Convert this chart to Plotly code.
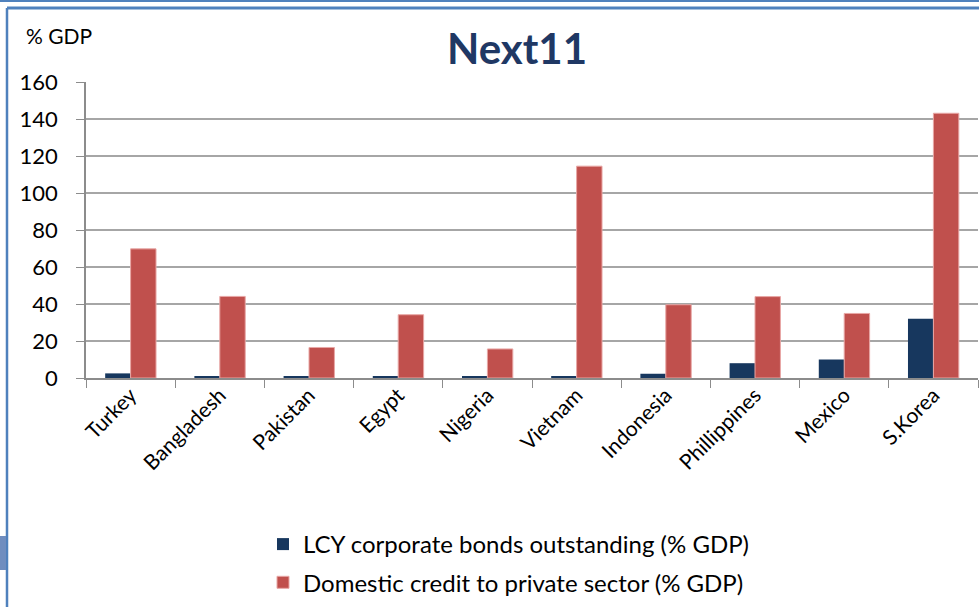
import plotly.graph_objects as go

countries = ["Turkey", "Bangladesh", "Pakistan", "Egypt", "Nigeria",
             "Vietnam", "Indonesia", "Phillippines", "Mexico", "S.Korea"]
lcy_bonds = [2.5, 1.0, 1.0, 1.0, 1.0, 1.0, 2.3, 8.0, 10.0, 32.0]
dom_credit = [69.8, 44.1, 16.5, 34.2, 15.7, 114.5, 39.6, 44.0, 34.9, 143.1]
y_ticks = [0, 20, 40, 60, 80, 100, 120, 140, 160]

FONT = "Lato"
W, H = 979, 607
L, R, T, B = 86, 1, 82, 229
PW, PH = W - L - R, H - T - B


def px(x):
    return (x - L) / PW


def py(y):
    return (H - B - y) / PH


fig = go.Figure()
fig.add_trace(go.Bar(x=countries, y=lcy_bonds, name="LCY corporate bonds outstanding (% GDP)",
                     marker=dict(color="#17375E", line=dict(width=0)), legendgroup="a"))
fig.add_trace(go.Bar(x=countries, y=dom_credit, name="Domestic credit to private sector (% GDP)",
                     marker=dict(color="#C0504D", line=dict(color="#E8A7A5", width=1)), legendgroup="b"))

fig.update_layout(
    width=W, height=H,
    margin=dict(l=L, r=R, t=T, b=B),
    paper_bgcolor="white", plot_bgcolor="white",
    barmode="group", bargap=0.43, bargroupgap=0,
    font=dict(family=FONT, color="#000000", size=19),
    showlegend=True,
    legend=dict(x=px(263), xanchor="left", y=py(522), yanchor="top",
                orientation="v", font=dict(size=24, family=FONT), tracegroupgap=4,
                bgcolor="rgba(0,0,0,0)"),
    xaxis=dict(tickson="boundaries", ticks="outside", ticklen=8, tickcolor="#8C8C8C",
               showline=True, linecolor="#8C8C8C", linewidth=1.5,
               showgrid=False, tickangle=-45, ticklabelstandoff=-5,
               tickfont=dict(size=21, family=FONT)),
    yaxis=dict(range=[0, 160], tickvals=y_ticks, ticks="outside", ticklen=8,
               tickcolor="#8C8C8C", showline=True, linecolor="#8C8C8C", linewidth=1.5,
               showgrid=True, gridcolor="#A6A6A6", gridwidth=1.5, zeroline=False,
               ticklabelstandoff=14, tickfont=dict(size=22, family=FONT)),
    annotations=[
        dict(text="<b>Next11</b>", xref="paper", yref="paper",
             x=px(517), y=py(48), yanchor="middle", xanchor="center", showarrow=False,
             font=dict(size=42, color="#1F3864", family=FONT)),
        dict(text="% GDP", xref="paper", yref="paper",
             x=px(24), y=py(35), xanchor="left", yanchor="middle", showarrow=False,
             font=dict(size=21, family=FONT)),
    ],
    shapes=[
        dict(type="line", xref="paper", yref="paper", x0=px(0), x1=px(W),
             y0=py(1), y1=py(1), line=dict(color="#4F81BD", width=2)),
        dict(type="line", xref="paper", yref="paper", x0=px(7), x1=px(W),
             y0=py(8), y1=py(8), line=dict(color="#4F81BD", width=3)),
        dict(type="line", xref="paper", yref="paper", x0=px(7), x1=px(7),
             y0=py(8), y1=py(H), line=dict(color="#4F81BD", width=2.5)),
        dict(type="rect", xref="paper", yref="paper", x0=px(0), x1=px(6),
             y0=py(536), y1=py(570), fillcolor="#6F8DBF", line=dict(width=0)),
    ],
)

fig.write_html("out.html")
